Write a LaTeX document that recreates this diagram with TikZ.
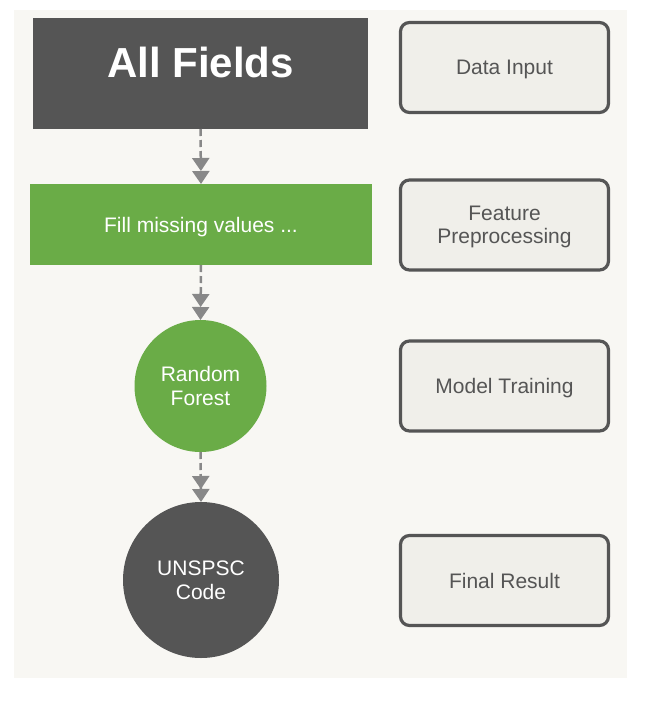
\documentclass[tikz,border=0pt]{standalone}
\usepackage{fontspec}
\setmainfont{Liberation Sans}
\usetikzlibrary{arrows.meta}
\definecolor{dark}{HTML}{555555}
\definecolor{grn}{HTML}{6AAC47}
\definecolor{bgc}{HTML}{F8F7F3}
\definecolor{boxfill}{HTML}{F0EFEA}
\definecolor{arr}{HTML}{888888}
\begin{document}
\begin{tikzpicture}[x=1pt,y=-1pt,
  lbl/.style={font=\fontsize{21}{23.5}\selectfont, align=center, text depth=0pt},
  darkbox/.style={fill=dark, text=white, inner sep=0pt, outer sep=0pt},
  greenbox/.style={lbl, fill=grn, text=white, inner sep=0pt, outer sep=0pt},
  greencircle/.style={lbl, circle, fill=grn, text=white, inner sep=0pt, outer sep=0pt},
  darkcircle/.style={lbl, circle, fill=dark, text=white, inner sep=0pt, outer sep=0pt},
  stagebox/.style={lbl, draw=dark, line width=3.2pt, fill=boxfill, rounded corners=9pt,
    minimum width=208pt, minimum height=90pt, text=dark, inner sep=0pt},
  flow/.style={draw=arr, line width=2.5pt, dash pattern=on 7pt off 4pt,
    -{Triangle[width=17pt,length=13pt] Triangle[width=17pt,length=13pt]}}
]
\useasboundingbox (0,0) rectangle (666,702);
\fill[bgc] (14,10) rectangle (627,678);

\node[darkbox, minimum width=335pt, minimum height=111pt] (all) at (200.5,73.5) {};
\node[text=white, inner sep=0pt, font=\fontsize{42}{48}\selectfont\bfseries]
  (alltext) at ([yshift=11pt]all.center) {All Fields};
\node[greenbox, minimum width=342pt, minimum height=81pt] (fill) at (201,224.5) {Fill missing values ...};
\node[greencircle, minimum size=132pt] (rf) at (200.5,386) {Random\\Forest};
\node[darkcircle, minimum size=156pt] (code) at (201,580) {UNSPSC\\Code};

\node[stagebox] (s1) at (504.5,67.5) {Data Input};
\node[stagebox] (s2) at (504.5,225) {Feature\\Preprocessing};
\node[stagebox] (s3) at (504.5,386) {Model Training};
\node[stagebox] (s4) at (504.5,580.5) {Final Result};

\draw[flow] (all.south) -- (fill.north);
\draw[flow] (fill.south) -- (rf.north);
\draw[flow] (rf.south) -- (code.north);
\end{tikzpicture}
\end{document}
